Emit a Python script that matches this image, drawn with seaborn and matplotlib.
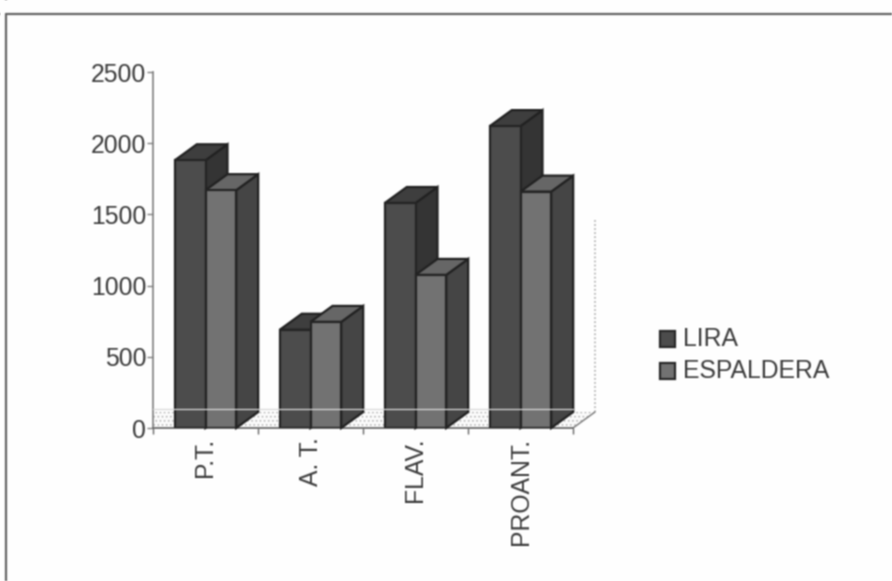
import matplotlib
matplotlib.use("Agg")
import matplotlib.pyplot as plt
from matplotlib.patches import Polygon, Rectangle
from matplotlib.transforms import ScaledTranslation
from matplotlib.lines import Line2D
import numpy as np
import pandas as pd
import seaborn as sns

categories = ["P.T.", "A. T.", "FLAV.", "PROANT."]
lira = [1880, 690, 1580, 2120]
espaldera = [1670, 745, 1075, 1660]
series_names = ["LIRA", "ESPALDERA"]
y_ticks = [0, 500, 1000, 1500, 2000, 2500]

W, H = 892, 581
sns.set_theme(style="white")
plt.rcParams["font.family"] = ["Liberation Sans", "DejaVu Sans"]


def soften(image, dpi):
    """Light separable blur over the finished page."""
    kernel = np.array([0.25, 0.5, 0.25])
    out = image.copy()
    for axis in (0, 1):
        out = (kernel[0] * np.roll(out, 1, axis) + kernel[1] * out
               + kernel[2] * np.roll(out, -1, axis))
    return out, 0, 0


fig = plt.figure(figsize=(W / 100, H / 100), dpi=100, facecolor="#fefefe")
fig.set_agg_filter(soften)
ax = fig.add_axes([153 / W, 1 - 428 / H, 420 / W, 356 / H])
ax.patch.set_alpha(0)

df = pd.DataFrame({
    "category": categories * 2,
    "series": [series_names[0]] * 4 + [series_names[1]] * 4,
    "value": lira + espaldera,
})
front = {"LIRA": "#4c4c4c", "ESPALDERA": "#727272"}
sns.barplot(data=df, x="category", y="value", hue="series", order=categories,
            hue_order=series_names, palette=front, width=0.585, saturation=1,
            edgecolor="#252525", linewidth=1.6, legend=False, ax=ax, zorder=4)
ax.set_xlim(-0.5, 3.5)
ax.set_ylim(0, 2500)

# Extrusion offsets of the pseudo-3D bars, expressed in data units
px_x = 4 / 420
px_y = 2500 / 356
dx, dy = 22 * px_x, 16 * px_y

# Stippled floor and dotted back wall
plt.rcParams["hatch.linewidth"] = 0.5
floor_style = dict(facecolor="#fbfbfb", edgecolor="#a4a4a4", hatch="....", linewidth=0,
                   clip_on=False, zorder=1)
ax.add_patch(Polygon([(-0.5, 0), (3.5, 0), (3.5 + dx, dy), (-0.5 + dx, dy)], closed=True, **floor_style))
ax.add_patch(Polygon([(-0.5, 0), (-0.5 + dx, dy), (-0.5, dy)], closed=True, **floor_style))
ax.plot([3.5, 3.5 + dx], [0, dy], color="#777777", lw=1, clip_on=False, zorder=2)
ax.plot([3.5 + dx] * 2, [dy, 1465], ls=":", lw=1.1, color="#a0a0a0", clip_on=False, zorder=1)

# Side and top faces of each bar; later bars overlap earlier ones
side = {"LIRA": "#343434", "ESPALDERA": "#454545"}
top = {"LIRA": "#3e3e3e", "ESPALDERA": "#666666"}
for i in range(len(categories)):
    for c, name, z in ((ax.containers[0], "LIRA", 4), (ax.containers[1], "ESPALDERA", 6)):
        b = c.patches[i]
        x0, x1, h = b.get_x(), b.get_x() + b.get_width(), b.get_height()
        base = 10 * i + z
        b.set_zorder(base + 0.2)
        ax.add_patch(Polygon([(x1, 0), (x1 + dx, dy), (x1 + dx, h + dy), (x1, h)], closed=True,
                             facecolor=side[name], edgecolor="#222222", linewidth=1.6,
                             clip_on=False, zorder=base))
        ax.add_patch(Polygon([(x0, h), (x0 + dx, h + dy), (x1 + dx, h + dy), (x1, h)], closed=True,
                             facecolor=top[name], edgecolor="#222222", linewidth=1.6,
                             clip_on=False, zorder=base + 0.1))

# Pale line crossing the chart just above the baseline
ax.plot([-0.5, 3.5], [19 * px_y] * 2, color="#d8d8d8", lw=0.9, clip_on=False, zorder=90)

ax.set_xlabel("")
ax.set_ylabel("")
ax.set_yticks(y_ticks)
ax.set_xticks(np.arange(-0.5, 4, 1), minor=True)
ax.set_xticks(range(4))
ax.set_xticklabels(categories, rotation=90, fontsize=17.8, color="#3c3c3c")
shift = ScaledTranslation(-3 / 100, 0, fig.dpi_scale_trans)
for label in ax.get_xticklabels():
    label.set_transform(label.get_transform() + shift)
ax.tick_params(axis="x", which="major", length=0, pad=7)
ax.tick_params(axis="x", which="minor", length=4, width=1, color="#666666", bottom=True)
ax.tick_params(axis="y", length=4.5, width=1, color="#808080", labelsize=17.8,
               labelcolor="#3c3c3c", pad=0.5, left=True)
sns.despine(ax=ax, top=True, right=True)
ax.spines["left"].set_color("#808080")
ax.spines["left"].set_linewidth(1.2)
ax.spines["bottom"].set_color("#6c6c6c")
ax.spines["bottom"].set_linewidth(1.3)

# Legend swatches and labels, placed in figure coordinates
for ypx, name in zip((339, 371), series_names):
    fig.add_artist(Rectangle((660 / W, 1 - (ypx + 8) / H), 15 / W, 16 / H, transform=fig.transFigure,
                             facecolor=front[name], edgecolor="#2a2a2a", linewidth=1.6))
    fig.text(683 / W, 1 - ypx / H, name, fontsize=17.8, color="#3c3c3c", va="center", ha="left")

# Outer rules along the top and left edges of the page
fig.add_artist(Line2D([6 / W, 1], [1 - 14 / H] * 2, transform=fig.transFigure,
                      color="#666666", lw=1.6))
fig.add_artist(Line2D([6 / W] * 2, [0, 1 - 14 / H], transform=fig.transFigure,
                      color="#666666", lw=1.6))

fig.savefig("out.png", dpi=100, facecolor=fig.get_facecolor())
